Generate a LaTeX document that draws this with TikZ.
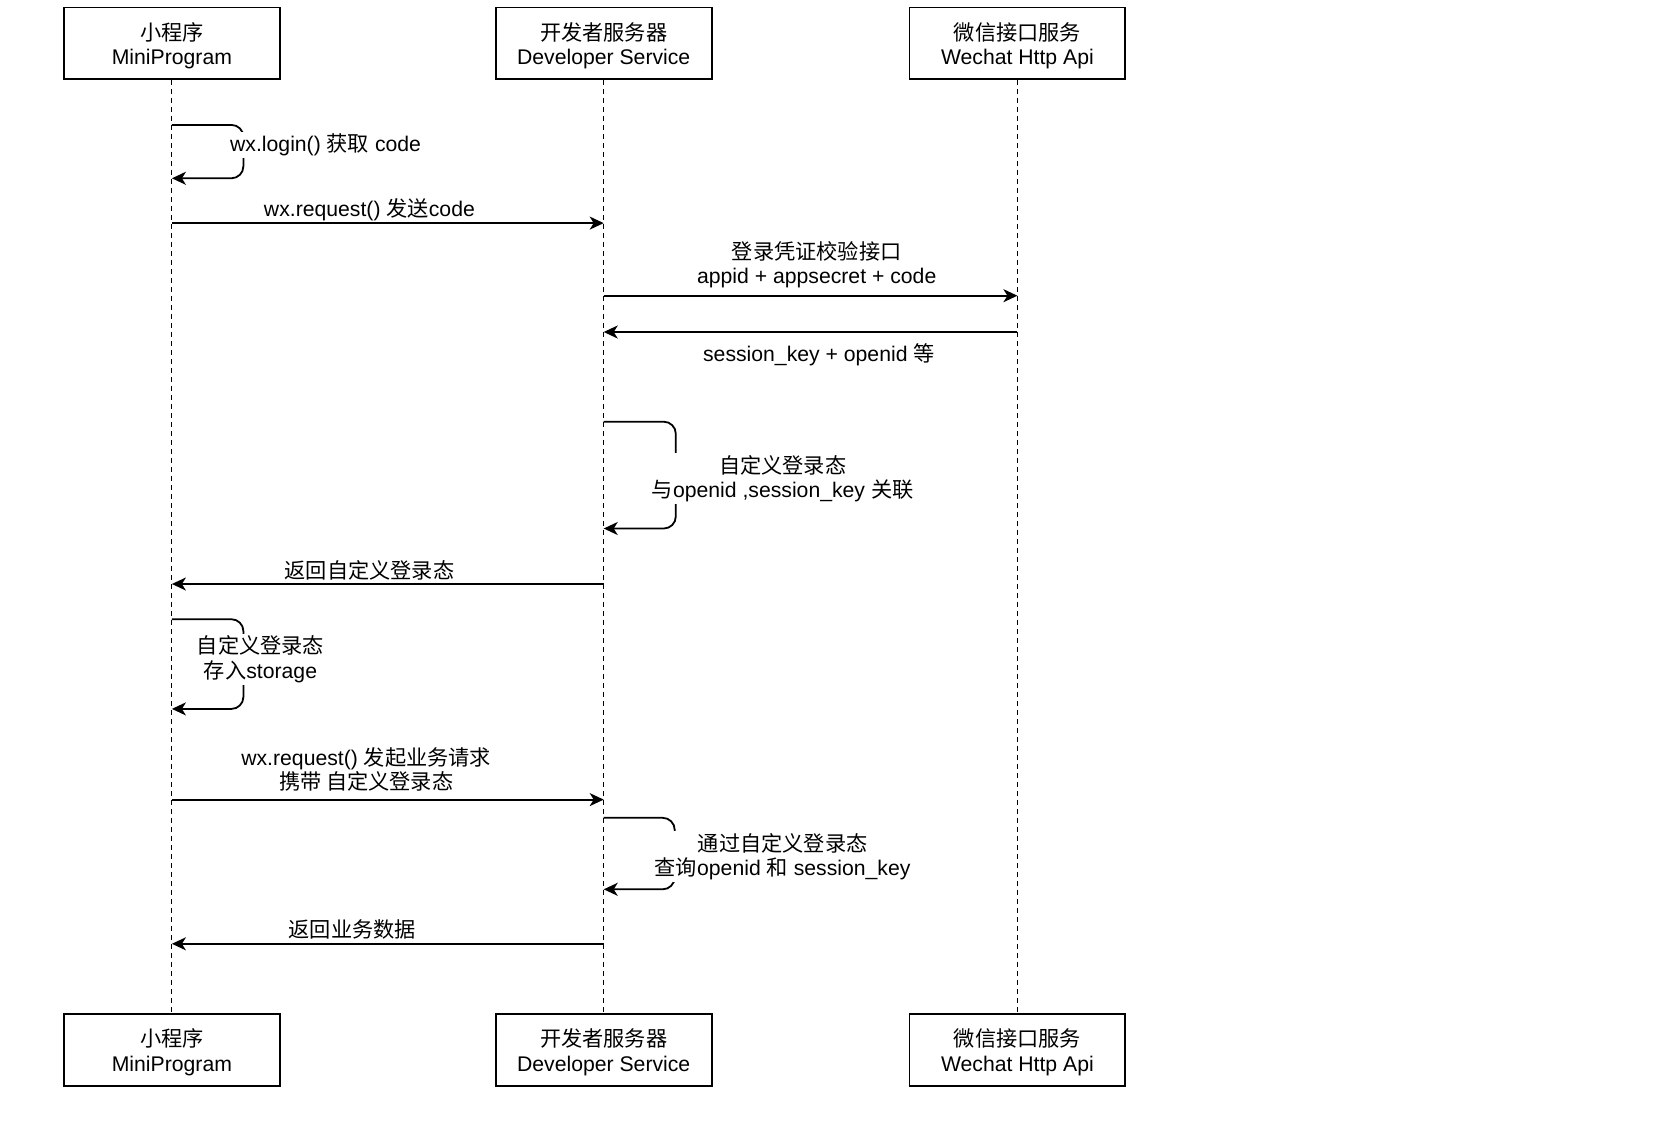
\documentclass[tikz,border=0pt]{standalone}
\usepackage{fontspec}
\setmainfont{Liberation Sans}
\newfontfamily\cjk{Noto Sans CJK SC}
\usetikzlibrary{arrows.meta}
\begin{document}
\begin{tikzpicture}[x=0.5pt,y=-0.5pt,
  font=\fontsize{10.6}{12.3}\selectfont,
  actor/.style={draw, line width=0.9pt, minimum width=107.9pt, minimum height=35.8pt, inner sep=0pt,
    label={[align=center, yshift=-1.3pt, inner sep=0pt]center:#1}},
  life/.style={dash pattern=on 2.5pt off 2pt, line width=0.5pt},
  msg/.style={line width=0.9pt, -{Stealth[length=7pt,width=6.5pt,inset=2pt]}},
  loopmsg/.style={msg, rounded corners=6pt},
  lbl/.style={inner sep=0pt, align=center, yshift=-1pt},
  looplbl/.style={lbl, fill=white, inner sep=1pt}]
\useasboundingbox (0,0) rectangle (1674,1125);
\def\xm{171.9}\def\xd{603.7}\def\xw{1017.4}
% actors
\node[actor={{\cjk 小程序}\\MiniProgram}] (m1) at (\xm,43.2) {};
\node[actor={{\cjk 开发者服务器}\\Developer Service}] (d1) at (\xd,43.2) {};
\node[actor={{\cjk 微信接口服务}\\Wechat Http Api}] (w1) at (\xw,43.2) {};
\node[actor={{\cjk 小程序}\\MiniProgram}] (m2) at (\xm,1049.9) {};
\node[actor={{\cjk 开发者服务器}\\Developer Service}] (d2) at (\xd,1049.9) {};
\node[actor={{\cjk 微信接口服务}\\Wechat Http Api}] (w2) at (\xw,1049.9) {};
% lifelines
\draw[life] (m1) -- (m2);
\draw[life] (d1) -- (d2);
\draw[life] (w1) -- (w2);
% message anchor points
\coordinate (l1s) at (\xm,124.9); \coordinate (l1e) at (\xm,178.3);
\coordinate (a2s) at (\xm,223.1); \coordinate (a2e) at (\xd,223.1);
\coordinate (a3s) at (\xd,295.7); \coordinate (a3e) at (\xw,295.7);
\coordinate (a4s) at (\xw,332.0); \coordinate (a4e) at (\xd,332.0);
\coordinate (l5s) at (\xd,421.7); \coordinate (l5e) at (\xd,528.5);
\coordinate (a6s) at (\xd,584.0); \coordinate (a6e) at (\xm,584.0);
\coordinate (l7s) at (\xm,619.2); \coordinate (l7e) at (\xm,708.9);
\coordinate (a8s) at (\xm,799.6); \coordinate (a8e) at (\xd,799.6);
\coordinate (l9s) at (\xd,817.8); \coordinate (l9e) at (\xd,889.3);
\coordinate (a10s) at (\xd,943.8); \coordinate (a10e) at (\xm,943.8);
% messages
\draw[loopmsg] (l1s) -- (243.4,124.9) -- (243.4,178.3) -- (l1e);
\node[looplbl] (t1) at (325.6,143) {wx.login() {\cjk 获取} code};
\draw[msg] (a2s) -- (a2e);
\node[lbl] (t2) at (369.4,208.2) {wx.request() {\cjk 发送}code};
\draw[msg] (a3s) -- (a3e);
\node[lbl] (t3) at (816.7,262.6) {{\cjk 登录凭证校验接口}\\appid + appsecret + code};
\draw[msg] (a4s) -- (a4e);
\node[lbl] (t4) at (818.9,352.3) {session\_key + openid {\cjk 等}};
\draw[loopmsg] (l5s) -- (675.8,421.7) -- (675.8,528.5) -- (l5e);
\node[looplbl] (t5) at (782.6,476.7) {{\cjk 自定义登录态}\\{\cjk 与}openid ,session\_key {\cjk 关联}};
\draw[msg] (a6s) -- (a6e);
\node[lbl] (t6) at (369.4,568) {{\cjk 返回自定义登录态}};
\draw[loopmsg] (l7s) -- (243.4,619.2) -- (243.4,708.9) -- (l7e);
\node[looplbl] (t7) at (260.5,657.1) {{\cjk 自定义登录态}\\{\cjk 存入}storage};
\draw[msg] (a8s) -- (a8e);
\node[lbl] (t8) at (366.2,767.6) {wx.request() {\cjk 发起业务请求}\\{\cjk 携带 自定义登录态}};
\draw[loopmsg] (l9s) -- (674.7,817.8) -- (674.7,889.3) -- (l9e);
\node[looplbl] (t9) at (782.6,854.6) {{\cjk 通过自定义登录态}\\{\cjk 查询}openid {\cjk 和} session\_key};
\draw[msg] (a10s) -- (a10e);
\node[lbl] (t10) at (352.3,927.7) {{\cjk 返回业务数据}};
\end{tikzpicture}
\end{document}
